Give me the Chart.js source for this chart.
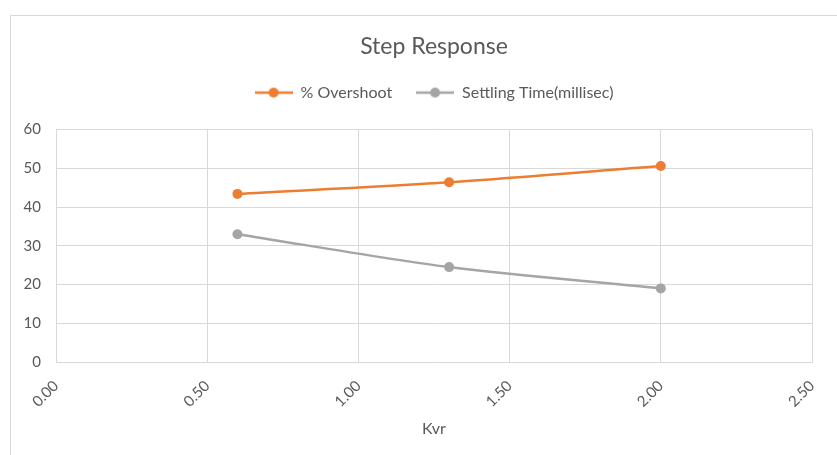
<!DOCTYPE html>
<html>
<head>
<meta charset="utf-8">
<script src="https://cdn.jsdelivr.net/npm/chart.js@4/dist/chart.umd.min.js"></script>
<style>
  html, body { margin: 0; padding: 0; background: #fff; }
  #wrap { position: relative; width: 837px; height: 455px; overflow: hidden; }
  #frame { position: absolute; left: 10px; top: 15px; width: 900px; height: 500px; border: 1px solid #d9d9d9; box-sizing: border-box; }
  canvas { position: absolute; left: 0; top: 0; }
</style>
</head>
<body>
<div id="wrap">
  <div id="frame"></div>
  <canvas id="c" width="837" height="455"></canvas>
</div>
<script>
// Kvr gain values and the measured responses
const kvr = [0.6, 1.3, 2.0];
const overshoot = [43.4, 46.4, 50.6];
const settlingTime = [33.0, 24.5, 19.0];
const seriesNames = ['% Overshoot', 'Settling Time(millisec)'];
const chartTitle = 'Step Response';
const xTitle = 'Kvr';

const FONT = 'Lato, "Open Sans", sans-serif';
const TEXT = '#595959';
const GRID = '#d9d9d9';
const colors = ['#ED7D31', '#A5A5A5'];
const seriesValues = [overshoot, settlingTime];

// legend symbol: a short line with a dot in the middle
function lineMarker(color) {
  const cv = document.createElement('canvas');
  cv.width = 38; cv.height = 12;
  const g = cv.getContext('2d');
  g.strokeStyle = color; g.lineWidth = 2.5;
  g.beginPath(); g.moveTo(0, 6); g.lineTo(38, 6); g.stroke();
  g.fillStyle = color;
  g.beginPath(); g.arc(19, 6, 5, 0, Math.PI * 2); g.fill();
  return cv;
}

const toPoints = (xs, ys) => xs.map((x, i) => ({ x: x, y: ys[i] }));

// extra room between the legend row and the plot area
const legendGap = {
  id: 'legendGap',
  beforeUpdate(chart) {
    const lg = chart.legend;
    if (lg && !lg._gapWrapped) {
      const fit = lg.fit.bind(lg);
      lg.fit = function () { fit(); this.height += 19; };
      lg._gapWrapped = true;
    }
  }
};

new Chart(document.getElementById('c'), {
  type: 'scatter',
  data: {
    datasets: seriesValues.map((vals, i) => ({
      label: seriesNames[i],
      data: toPoints(kvr, vals),
      showLine: true,
      borderColor: colors[i],
      backgroundColor: colors[i],
      borderWidth: 2.5,
      pointRadius: 5,
      pointBorderWidth: 0,
      tension: 0.3
    }))
  },
  plugins: [legendGap],
  options: {
    responsive: false,
    animation: false,
    layout: { padding: { top: 25, right: 25, left: 0, bottom: 8 } },
    plugins: {
      tooltip: { enabled: false },
      title: {
        display: true,
        fullSize: false,
        text: chartTitle,
        color: TEXT,
        font: { family: FONT, size: 23, weight: 'normal' },
        padding: { top: 8, bottom: 0 }
      },
      legend: {
        display: true,
        fullSize: false,
        labels: {
          color: TEXT,
          font: { family: FONT, size: 16 },
          usePointStyle: true,
          pointStyleWidth: 38,
          padding: 24,
          generateLabels: (chart) => chart.data.datasets.map((ds, i) => ({
            text: ds.label,
            fontColor: TEXT,
            pointStyle: lineMarker(colors[i]),
            datasetIndex: i,
            lineWidth: 0,
            strokeStyle: 'transparent',
            fillStyle: 'transparent',
            hidden: false
          }))
        }
      }
    },
    scales: {
      x: {
        type: 'linear',
        min: 0, max: 2.5,
        ticks: {
          stepSize: 0.5,
          color: TEXT,
          font: { family: FONT, size: 15 },
          minRotation: 45, maxRotation: 45,
          padding: 15,
          callback: v => Number(v).toFixed(2)
        },
        grid: { color: GRID, lineWidth: 1, drawTicks: false },
        border: { color: GRID },
        title: {
          display: true, text: xTitle, color: TEXT,
          font: { family: FONT, size: 16 },
          padding: { top: 10, bottom: 9 }
        },
        afterFit: s => { s.height = 85; s.paddingLeft = 0; s.paddingRight = 0; }
      },
      y: {
        min: 0, max: 60,
        ticks: {
          stepSize: 10,
          color: TEXT,
          font: { family: FONT, size: 15 },
          padding: 15
        },
        grid: { color: GRID, lineWidth: 1, drawTicks: false },
        border: { color: GRID },
        afterFit: s => { s.width = 56; s.paddingTop = 0; s.paddingBottom = 0; }
      }
    }
  }
});
</script>
</body>
</html>
